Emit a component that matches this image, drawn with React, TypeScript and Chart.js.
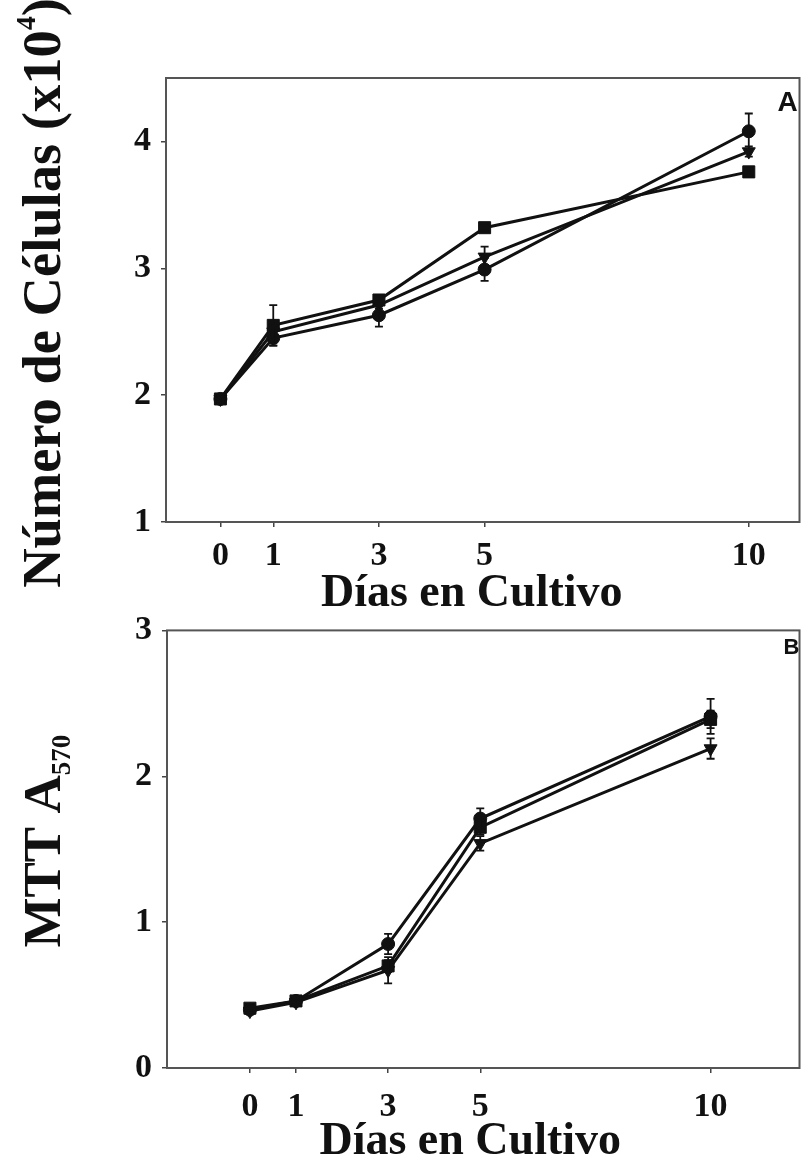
import React, { useEffect, useRef } from 'react';
import { Chart, registerables } from 'chart.js';

Chart.register(...registerables);

// ---------- data ----------
const days = [0, 1, 3, 5, 10];
const yTicksA = [1, 2, 3, 4];
const yTicksB = [0, 1, 2, 3];

// Panel A: Número de Células (x10^4)
const cellsSquare = [1.97, 2.55, 2.75, 3.32, 3.76];
const cellsTriangle = [1.97, 2.5, 2.71, 3.09, 3.92];
const cellsCircle = [1.97, 2.45, 2.63, 2.99, 4.08];
const cellsSquareErr = [0.02, 0.16, 0.03, 0.02, 0.03];
const cellsTriangleErr = [0.02, 0.05, 0.03, 0.08, 0.04];
const cellsCircleErr = [0.02, 0.06, 0.09, 0.09, 0.14];

// Panel B: MTT A570
const mttCircle = [0.4, 0.46, 0.85, 1.71, 2.41];
const mttSquare = [0.41, 0.46, 0.7, 1.65, 2.39];
const mttTriangle = [0.39, 0.45, 0.67, 1.54, 2.19];
const mttCircleErr = [0.02, 0.02, 0.07, 0.07, 0.12];
const mttSquareErr = [0.02, 0.02, 0.04, 0.05, 0.06];
const mttTriangleErr = [0.02, 0.02, 0.09, 0.05, 0.07];

const xTitle = 'Días en Cultivo';

// ---------- styles ----------
const SERIF = '"Liberation Serif", "Times New Roman", "DejaVu Serif", serif';
const SANS = '"Liberation Sans", Arial, sans-serif';
const INK = '#111111';

const markerStyles = [
  { pointStyle: 'rect', pointRadius: 8.5, pointRotation: 0 },
  { pointStyle: 'triangle', pointRadius: 7.5, pointRotation: 180 },
  { pointStyle: 'circle', pointRadius: 6.5, pointRotation: 0 },
];

const framePlugin = {
  id: 'frame',
  beforeDatasetsDraw(chart: any) {
    const { ctx, chartArea } = chart;
    ctx.save();
    ctx.strokeStyle = '#555555';
    ctx.lineWidth = 2;
    ctx.strokeRect(chartArea.left, chartArea.top, chartArea.right - chartArea.left, chartArea.bottom - chartArea.top);
    ctx.restore();
  },
};

const errorBarPlugin = {
  id: 'errorBars',
  afterDatasetsDraw(chart: any) {
    const { ctx } = chart;
    const xs = chart.scales.x;
    const ys = chart.scales.y;
    chart.data.datasets.forEach((ds: any) => {
      const errs: number[] | undefined = ds.errors;
      if (!errs) return;
      ctx.save();
      ctx.strokeStyle = INK;
      ctx.lineWidth = 1.8;
      ds.data.forEach((p: any, j: number) => {
        const e = errs[j];
        if (!e) return;
        const x = xs.getPixelForValue(p.x);
        const yt = ys.getPixelForValue(p.y + e);
        const yb = ys.getPixelForValue(p.y - e);
        ctx.beginPath();
        ctx.moveTo(x, yt);
        ctx.lineTo(x, yb);
        ctx.moveTo(x - 4, yt);
        ctx.lineTo(x + 4, yt);
        ctx.moveTo(x - 4, yb);
        ctx.lineTo(x + 4, yb);
        ctx.stroke();
      });
      ctx.restore();
    });
  },
};

const textPlugin = {
  id: 'panelText',
  afterDraw(chart: any, _args: any, opts: any) {
    const { ctx, chartArea } = chart;
    ctx.save();
    ctx.fillStyle = INK;
    const cy = (chartArea.top + chartArea.bottom) / 2 + (opts.yTitleShift || 0);
    ctx.translate(opts.yTitleX, cy);
    ctx.rotate(-Math.PI / 2);
    ctx.textBaseline = 'alphabetic';
    ctx.textAlign = 'left';
    let total = 0;
    const widths = opts.yTitleParts.map((part: any) => {
      ctx.font = `bold ${part.size}px ${SERIF}`;
      const w = ctx.measureText(part.text).width;
      total += w;
      return w;
    });
    let cur = -total / 2;
    opts.yTitleParts.forEach((part: any, i: number) => {
      ctx.font = `bold ${part.size}px ${SERIF}`;
      ctx.fillText(part.text, cur, part.dy || 0);
      cur += widths[i];
    });
    ctx.restore();

    ctx.save();
    ctx.fillStyle = INK;
    ctx.font = `bold ${opts.xTitleSize}px ${SERIF}`;
    ctx.textAlign = 'center';
    ctx.textBaseline = 'middle';
    ctx.fillText(xTitle, (chartArea.left + chartArea.right) / 2 + opts.xTitleShiftX, chartArea.bottom + opts.xTitleOffset);
    ctx.restore();

    ctx.save();
    ctx.fillStyle = INK;
    ctx.font = `900 ${opts.letterSize}px ${SANS}`;
    ctx.textAlign = 'center';
    ctx.textBaseline = 'middle';
    ctx.fillText(opts.letter, chartArea.right - opts.letterInsetX, chartArea.top + opts.letterInsetY);
    ctx.restore();
  },
};

type PanelSpec = {
  height: number;
  padTop: number;
  padRight: number;
  yAxisWidth: number;
  xAxisHeight: number;
  xTickPad: number;
  xMin: number;
  xMax: number;
  yMin: number;
  yMax: number;
  yTicks: number[];
  series: { values: number[]; errors: number[] }[];
  text: any;
};

function makeConfig(p: PanelSpec): any {
  const tickFont = { family: SERIF, size: 34, weight: 'bold' as const };
  return {
    type: 'line',
    data: {
      datasets: p.series.map((s, i) => ({
        data: days.map((d, j) => ({ x: d, y: s.values[j] })),
        errors: s.errors,
        borderColor: INK,
        backgroundColor: INK,
        pointBackgroundColor: INK,
        pointBorderColor: INK,
        borderWidth: 3,
        pointBorderWidth: 1,
        tension: 0,
        fill: false,
        ...markerStyles[i],
      })),
    },
    options: {
      responsive: false,
      animation: false,
      layout: { padding: { top: p.padTop, right: p.padRight, left: 0, bottom: 0 } },
      plugins: {
        legend: { display: false },
        tooltip: { enabled: false },
        panelText: p.text,
      },
      scales: {
        x: {
          type: 'linear',
          min: p.xMin,
          max: p.xMax,
          afterFit: (s: any) => {
            s.height = p.xAxisHeight;
          },
          afterBuildTicks: (s: any) => {
            s.ticks = days.map((v) => ({ value: v }));
          },
          grid: { display: true, drawOnChartArea: false, drawTicks: true, tickLength: 5, tickColor: '#444', lineWidth: 1.5 },
          border: { display: false },
          ticks: { font: tickFont, color: INK, padding: p.xTickPad, maxRotation: 0, autoSkip: false },
        },
        y: {
          type: 'linear',
          min: p.yMin,
          max: p.yMax,
          afterFit: (s: any) => {
            s.width = p.yAxisWidth;
          },
          afterBuildTicks: (s: any) => {
            s.ticks = p.yTicks.map((v) => ({ value: v }));
          },
          grid: { display: true, drawOnChartArea: false, drawTicks: true, tickLength: 5, tickColor: '#444', lineWidth: 1.5 },
          border: { display: false },
          ticks: { font: tickFont, color: INK, padding: 10 },
        },
      },
    },
    plugins: [framePlugin, errorBarPlugin, textPlugin],
  };
}

const panelA: PanelSpec = {
  height: 620,
  padTop: 78,
  padRight: 3,
  yAxisWidth: 166,
  xAxisHeight: 98,
  xTickPad: 9,
  xMin: -1.03,
  xMax: 10.96,
  yMin: 1,
  yMax: 4.5,
  yTicks: yTicksA,
  series: [
    { values: cellsSquare, errors: cellsSquareErr },
    { values: cellsTriangle, errors: cellsTriangleErr },
    { values: cellsCircle, errors: cellsCircleErr },
  ],
  text: {
    yTitleX: 60,
    yTitleShift: -7,
    yTitleParts: [
      { text: 'Número de Células (x10', size: 54.5 },
      { text: '4', size: 28, dy: -25 },
      { text: ')', size: 54.5 },
    ],
    xTitleSize: 46,
    xTitleShiftX: -11,
    xTitleOffset: 72,
    letter: 'A',
    letterSize: 28,
    letterInsetX: 12,
    letterInsetY: 25,
  },
};

const panelB: PanelSpec = {
  height: 562,
  padTop: 25,
  padRight: 2,
  yAxisWidth: 167,
  xAxisHeight: 94,
  xTickPad: 14,
  xMin: -1.8,
  xMax: 11.93,
  yMin: 0,
  yMax: 3,
  yTicks: yTicksB,
  series: [
    { values: mttSquare, errors: mttSquareErr },
    { values: mttTriangle, errors: mttTriangleErr },
    { values: mttCircle, errors: mttCircleErr },
  ],
  text: {
    yTitleX: 60,
    yTitleShift: -8,
    yTitleParts: [
      { text: 'MTT A', size: 53 },
      { text: '570', size: 27, dy: 10 },
    ],
    xTitleSize: 46,
    xTitleShiftX: -13,
    xTitleOffset: 74,
    letter: 'B',
    letterSize: 22,
    letterInsetX: 8,
    letterInsetY: 18,
  },
};

function Panel({ spec, top }: { spec: PanelSpec; top: number }) {
  const ref = useRef<HTMLCanvasElement | null>(null);
  useEffect(() => {
    if (!ref.current) return;
    const chart = new Chart(ref.current, makeConfig(spec));
    return () => chart.destroy();
  }, [spec]);
  return (
    <canvas
      ref={ref}
      width={809}
      height={spec.height}
      style={{ position: 'absolute', left: 0, top, width: 809, height: spec.height, display: 'block' }}
    />
  );
}

export default function App() {
  return (
    <div style={{ position: 'absolute', left: 0, top: 0, width: 809, height: 1162, background: '#ffffff', overflow: 'hidden' }}>
      <Panel spec={panelA} top={0} />
      <Panel spec={panelB} top={600} />
    </div>
  );
}
